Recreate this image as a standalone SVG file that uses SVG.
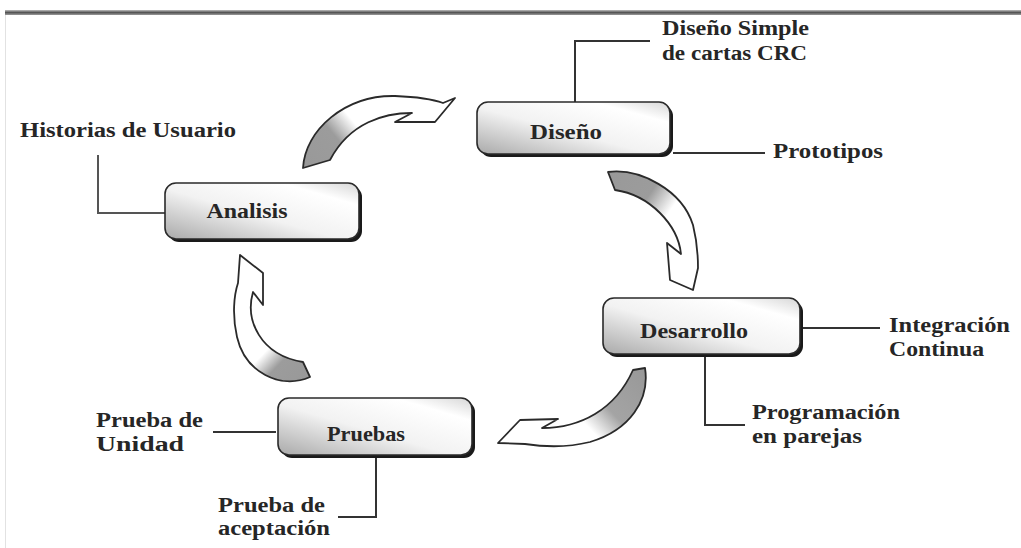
<svg xmlns="http://www.w3.org/2000/svg" width="1021" height="548" viewBox="0 0 1021 548">
<defs>
<style>
.lbl{font-family:"Liberation Serif","DejaVu Serif",serif;font-weight:bold;font-size:20px;fill:#262626}
.nt{font-family:"Liberation Serif","DejaVu Serif",serif;font-weight:bold;font-size:22px;fill:#262626}
.box{fill:url(#boxg);stroke:#2a2a2a;stroke-width:1.6}
.shadow{fill:#1a1a1a}
.ln{fill:none;stroke:#333;stroke-width:2}
.arw{stroke:#2a2a2a;stroke-width:1.8;stroke-linejoin:round}
</style>
<linearGradient id="boxg" x1="0" y1="1" x2="1" y2="0">
<stop offset="0" stop-color="#a9a9a9"/>
<stop offset="0.45" stop-color="#f2f2f2"/>
<stop offset="0.8" stop-color="#ffffff"/>
<stop offset="1" stop-color="#d6d6d6"/>
</linearGradient>
<linearGradient id="topbar" x1="0" y1="0" x2="0" y2="1">
<stop offset="0" stop-color="#bdbdbd"/>
<stop offset="0.5" stop-color="#555"/>
<stop offset="1" stop-color="#9a9a9a"/>
</linearGradient>
<linearGradient id="a1" gradientUnits="userSpaceOnUse" x1="310" y1="170" x2="400" y2="95">
<stop offset="0" stop-color="#999"/><stop offset="0.35" stop-color="#9c9c9c"/><stop offset="0.55" stop-color="#fff"/>
</linearGradient>
<linearGradient id="a2" gradientUnits="userSpaceOnUse" x1="608" y1="180" x2="695" y2="240">
<stop offset="0" stop-color="#999"/><stop offset="0.4" stop-color="#9c9c9c"/><stop offset="0.65" stop-color="#fff"/>
</linearGradient>
<linearGradient id="a3" gradientUnits="userSpaceOnUse" x1="640" y1="370" x2="560" y2="445">
<stop offset="0" stop-color="#999"/><stop offset="0.45" stop-color="#a4a4a4"/><stop offset="0.7" stop-color="#fff"/>
</linearGradient>
<linearGradient id="a4" gradientUnits="userSpaceOnUse" x1="308" y1="375" x2="240" y2="310">
<stop offset="0" stop-color="#999"/><stop offset="0.3" stop-color="#9c9c9c"/><stop offset="0.5" stop-color="#fff"/>
</linearGradient>
</defs>
<rect x="0" y="0" width="1021" height="548" fill="#ffffff"/>
<rect x="5" y="10" width="1016" height="5" fill="url(#topbar)"/>
<line x1="5.5" y1="15" x2="5.5" y2="548" stroke="#e2e2e2" stroke-width="1"/>

<g id="connectors">
<polyline class="ln" points="575,102 575,41 650,41"/>
<line class="ln" x1="673" y1="153" x2="765" y2="153"/>
<polyline class="ln" points="98,155 98,213 165,213" style="stroke:#555"/>
<line class="ln" x1="803" y1="328" x2="880" y2="328"/>
<polyline class="ln" points="705,357 705,425 745,425"/>
<line class="ln" x1="213" y1="432" x2="276" y2="432"/>
<polyline class="ln" points="376,458 376,517 338,517"/>
<path id="arrow-analisis-diseno" class="arw" fill="url(#a1)" d="M303,168 C305,130 345,95 395,96 C420,97 435,100 443,103 L455,98 L435,122 L395,122 L412,113 C385,113 350,122 330,160 Z"/>
<path id="arrow-diseno-desarrollo" class="arw" fill="url(#a2)" d="M608,172 C640,168 682,190 693,225 C698,245 698,258 698,268 L693,290 L670,280 L667,243 L681,254 C678,225 650,195 615,190 Z"/>
<path id="arrow-desarrollo-pruebas" class="arw" fill="url(#a3)" d="M645,368 C650,400 630,430 590,442 C570,447 545,447 525,444 L498,443 L520,420 L558,419 L542,428 C580,428 615,410 633,370 Z"/>
<path id="arrow-pruebas-analisis" class="arw" fill="url(#a4)" d="M310,377 C280,390 245,372 237,337 C232,315 234,295 238,283 L240,255 L263,273 L263,305 L253,292 C245,320 260,355 303,362 Z"/>
</g>

<g id="node-diseno">
<rect class="shadow" x="480" y="105" width="193" height="52" rx="11"/>
<rect class="box" x="477" y="102" width="193" height="52" rx="11"/>
<text class="nt" x="566" y="139" text-anchor="middle" textLength="72" lengthAdjust="spacingAndGlyphs">Diseño</text>
</g>
<g id="node-analisis">
<rect class="shadow" x="168" y="186" width="194" height="56" rx="11"/>
<rect class="box" x="165" y="183" width="194" height="56" rx="11"/>
<text class="nt" x="247" y="218" text-anchor="middle" textLength="81" lengthAdjust="spacingAndGlyphs">Analisis</text>
</g>
<g id="node-desarrollo">
<rect class="shadow" x="606" y="301" width="197" height="56" rx="11"/>
<rect class="box" x="603" y="298" width="197" height="56" rx="11"/>
<text class="nt" x="694" y="338" text-anchor="middle" textLength="108" lengthAdjust="spacingAndGlyphs">Desarrollo</text>
</g>
<g id="node-pruebas">
<rect class="shadow" x="281" y="401" width="194" height="57" rx="11"/>
<rect class="box" x="278" y="398" width="194" height="57" rx="11"/>
<text class="nt" x="366" y="441" text-anchor="middle" textLength="78" lengthAdjust="spacingAndGlyphs">Pruebas</text>
</g>

<g id="label-diseno-simple">
<text class="lbl" x="662" y="35" textLength="147" lengthAdjust="spacingAndGlyphs">Diseño Simple</text>
<text class="lbl" x="662" y="60" textLength="145" lengthAdjust="spacingAndGlyphs">de cartas CRC</text>
</g>
<g id="label-prototipos">
<text class="lbl" x="773" y="158" textLength="110" lengthAdjust="spacingAndGlyphs">Prototipos</text>
</g>
<g id="label-historias">
<text class="lbl" x="20" y="137" textLength="216" lengthAdjust="spacingAndGlyphs">Historias de Usuario</text>
</g>
<g id="label-integracion">
<text class="lbl" x="889" y="332" textLength="121" lengthAdjust="spacingAndGlyphs">Integración</text>
<text class="lbl" x="889" y="356" textLength="95" lengthAdjust="spacingAndGlyphs">Continua</text>
</g>
<g id="label-programacion">
<text class="lbl" x="752" y="419" textLength="148" lengthAdjust="spacingAndGlyphs">Programación</text>
<text class="lbl" x="752" y="443" textLength="110" lengthAdjust="spacingAndGlyphs">en parejas</text>
</g>
<g id="label-prueba-unidad">
<text class="lbl" x="96" y="427" textLength="107" lengthAdjust="spacingAndGlyphs">Prueba de</text>
<text class="lbl" x="96" y="451" textLength="88" lengthAdjust="spacingAndGlyphs">Unidad</text>
</g>
<g id="label-prueba-aceptacion">
<text class="lbl" x="218" y="512" textLength="107" lengthAdjust="spacingAndGlyphs">Prueba de</text>
<text class="lbl" x="218" y="535" textLength="112" lengthAdjust="spacingAndGlyphs">aceptación</text>
</g>
</svg>
